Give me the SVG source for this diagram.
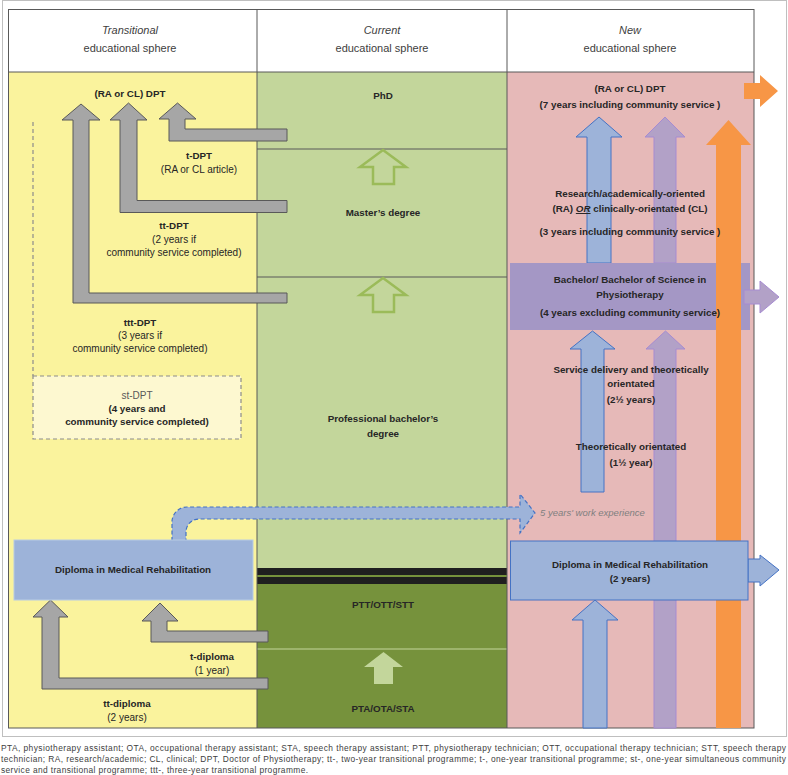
<svg xmlns="http://www.w3.org/2000/svg" width="788" height="775" viewBox="0 0 788 775">
<style>
text{font-family:"Liberation Sans",Arial,sans-serif;fill:#262626;text-anchor:middle}
.h{font-size:11px;fill:#404040}
.hi{font-size:11px;fill:#404040;font-style:italic}
.b{font-size:9.8px;font-weight:bold}
.n{font-size:10px}
.g{font-size:10px;fill:#595959}
.fn{font-size:8.4px;fill:#404040;text-anchor:start}
.gray{fill:#a6a6a6;stroke:#595959;stroke-width:1}
.blue{fill:#9db3d9;stroke:#4472c4;stroke-width:1}
.purp{fill:#b2a1c7;stroke:#a68bd1;stroke-width:1}
.orng{fill:#f79646}
.line{stroke:#595959;stroke-width:1;fill:none}
</style>
<!-- outer frame -->
<rect x="2.5" y="0.5" width="784" height="736" fill="#ffffff" stroke="#bfbfbf" stroke-width="1"/>
<!-- columns -->
<g id="columns">
<rect x="8" y="9" width="746" height="63" fill="#ffffff"/>
<rect x="8" y="72" width="249" height="656" fill="#faf39d"/>
<rect x="257" y="72" width="250" height="496" fill="#c3d69b"/>
<rect x="257" y="568" width="250" height="160" fill="#76923c"/>
<rect x="257" y="568" width="250" height="7" fill="#1f1f1f"/>
<rect x="257" y="577" width="250" height="7" fill="#1f1f1f"/>
<rect x="507" y="72" width="247" height="656" fill="#e6b9b8"/>
<line class="line" x1="257" y1="149" x2="507" y2="149"/>
<line class="line" x1="257" y1="277" x2="507" y2="277"/>
<line x1="257" y1="649" x2="507" y2="649" stroke="#c3d69b" stroke-width="1.2"/>
<rect x="8.5" y="9.5" width="745.5" height="718.5" class="line"/>
<line class="line" x1="8" y1="72" x2="754" y2="72"/>
<line class="line" x1="257" y1="9" x2="257" y2="728"/>
<line class="line" x1="507" y1="9" x2="507" y2="728"/>
</g>
<g id="headers">
<text class="hi" x="130" y="34">Transitional</text>
<text class="h" x="130" y="52">educational sphere</text>
<text class="hi" x="382" y="34">Current</text>
<text class="h" x="382" y="52">educational sphere</text>
<text class="hi" x="630" y="34">New</text>
<text class="h" x="630" y="52">educational sphere</text>
</g>
<!-- connectors -->
<g id="connectors">
<line x1="33" y1="122" x2="33" y2="376" stroke="#8c8c8c" stroke-width="1.2" stroke-dasharray="4 3"/>
<polygon class="gray" points="81,104 100,120 89,120 89,293 287,293 287,303 73,303 73,120 62,120"/>
<polygon class="gray" points="128.5,103 147,120 137,120 137,200.5 287,200.5 287,212.5 120,212.5 120,120 110,120"/>
<polygon class="gray" points="177.5,103 196,119 185,119 185,129 287,129 287,141 169,141 169,119 159,119"/>
<polygon class="gray" points="160,603 178,621 167,621 167,631 268,631 268,642 151,642 151,621 142,621"/>
<polygon class="gray" points="50.5,600 68,617 59,617 59,678 268,678 268,689 42,689 42,617 33,617"/>
<polygon points="383,150 406,167 394,167 394,184 373,184 373,167 360,167" fill="none" stroke="#9bbb59" stroke-width="2.5"/>
<polygon points="383,278 406,295 394,295 394,312 373,312 373,295 360,295" fill="none" stroke="#9bbb59" stroke-width="2.5"/>
<polygon points="383.5,652 403,667 393,667 393,684 374,684 374,667 364,667" fill="#c3d69b"/>
<path d="M172,541 V522 A15,15 0 0 1 187,507 H520 V494 L535,513 L520,533 V519 H199 A13,13 0 0 0 186,532 V541 Z" fill="#9db3d9" stroke="#4472c4" stroke-width="1.2" stroke-dasharray="4 2.5"/>
<polygon class="blue" points="599,117 622,137 611,137 611,263 587,263 587,137 576,137"/>
<polygon class="purp" points="665,117 685,137 676,137 676,263 654,263 654,137 645,137"/>
</g>
<g id="bachelor">
<rect x="510" y="263" width="240" height="67" fill="#a497c5"/>
</g>
<g id="connectors2">
<polygon class="orng" points="728.5,120 751,145 741,145 741,728 716,728 716,145 706,145"/>
<polygon class="orng" points="744,83 760,83 760,75 778,91 760,107 760,99 744,99"/>
<polygon class="purp" points="744,290 760,290 760,281 779,297 760,313 760,304 744,304"/>
<polygon class="blue" points="592.5,331 615,349 604,349 604,492 581,492 581,349 570,349"/>
<polygon class="purp" points="665.5,331 685,349 676,349 676,728 654,728 654,349 646,349"/>
<polygon class="blue" points="595,600 618,620 607,620 607,728 583,728 583,620 572,620"/>
<polygon class="blue" points="748,559 760,559 760,555 779,570 760,586 760,582 748,582"/>
</g>
<g id="diploma-left">
<rect x="14" y="540" width="239" height="60" fill="#9db3d9" stroke="#b8cce4" stroke-width="1"/>
<text class="b" x="133" y="573">Diploma in Medical Rehabilitation</text>
</g>
<g id="diploma-right">
<rect x="510.5" y="541" width="237.5" height="59" class="blue"/>
<text class="b" x="630" y="568">Diploma in Medical Rehabilitation</text>
<text class="b" x="630" y="582">(2 years)</text>
</g>
<g id="st-dpt">
<rect x="33" y="376" width="208" height="63" fill="#fdf8d0" stroke="#8c8c8c" stroke-width="1.2" stroke-dasharray="4 3"/>
<text class="g" x="137" y="399">st-DPT</text>
<text class="b" x="137" y="412">(4 years and</text>
<text class="b" x="137" y="425">community service completed)</text>
</g>
<g id="dpt-left">
<text class="b" x="130" y="97">(RA or CL) DPT</text>
</g>
<g id="t-dpt">
<text class="b" x="199" y="159">t-DPT</text>
<text class="n" x="199" y="173">(RA or CL article)</text>
</g>
<g id="tt-dpt">
<text class="b" x="174" y="229">tt-DPT</text>
<text class="n" x="174" y="243">(2 years if</text>
<text class="n" x="174" y="256">community service completed)</text>
</g>
<g id="ttt-dpt">
<text class="b" x="140" y="326">ttt-DPT</text>
<text class="n" x="140" y="339">(3 years if</text>
<text class="n" x="140" y="352">community service completed)</text>
</g>
<g id="t-diploma">
<text class="b" x="212" y="660">t-diploma</text>
<text class="n" x="212" y="674">(1 year)</text>
</g>
<g id="tt-diploma">
<text class="b" x="127" y="707">tt-diploma</text>
<text class="n" x="127" y="721">(2 years)</text>
</g>
<g id="phd"><text class="b" x="383" y="99">PhD</text></g>
<g id="masters"><text class="b" x="383" y="216">Master’s degree</text></g>
<g id="prof-bachelor">
<text class="b" x="383" y="422">Professional bachelor’s</text>
<text class="b" x="383" y="437">degree</text>
</g>
<g id="ptt"><text class="b" x="383" y="608">PTT/OTT/STT</text></g>
<g id="pta"><text class="b" x="383" y="712">PTA/OTA/STA</text></g>
<g id="dpt-new">
<text class="b" x="630" y="92">(RA or CL) DPT</text>
<text class="b" x="630" y="108">(7 years including community service )</text>
</g>
<g id="ra-cl">
<text class="b" x="630" y="197">Research/academically-oriented</text>
<text class="b" x="630" y="212">(RA) <tspan font-style="italic" text-decoration="underline">OR</tspan> clinically-orientated (CL)</text>
<text class="b" x="630" y="235">(3 years including community service )</text>
</g>
<g id="bachelor-text">
<text class="b" x="630" y="283">Bachelor/ Bachelor of Science in</text>
<text class="b" x="630" y="298">Physiotherapy</text>
<text class="b" x="630" y="316">(4 years excluding community service)</text>
</g>
<g id="service-delivery">
<text class="b" x="631" y="373">Service delivery and theoretically</text>
<text class="b" x="631" y="387">orientated</text>
<text class="b" x="631" y="403">(2½ years)</text>
</g>
<g id="theoretical">
<text class="b" x="631" y="450">Theoretically orientated</text>
<text class="b" x="631" y="466">(1½ year)</text>
</g>
<g id="work-exp">
<text x="540" y="516" style="font-size:9.5px;font-style:italic;fill:#7f7f7f;text-anchor:start">5 years' work experience</text>
</g>
<g id="footnote">
<text class="fn" x="1" y="751" textLength="785" lengthAdjust="spacing">PTA, physiotherapy assistant; OTA, occupational therapy assistant; STA, speech therapy assistant; PTT, physiotherapy technician; OTT, occupational therapy technician; STT, speech therapy</text>
<text class="fn" x="1" y="762" textLength="785" lengthAdjust="spacing">technician; RA, research/academic; CL, clinical; DPT, Doctor of Physiotherapy; tt-, two-year transitional programme; t-, one-year transitional programme; st-, one-year simultaneous community</text>
<text class="fn" x="1" y="773" textLength="307" lengthAdjust="spacing">service and transitional programme; ttt-, three-year transitional programme.</text>
</g>
</svg>
